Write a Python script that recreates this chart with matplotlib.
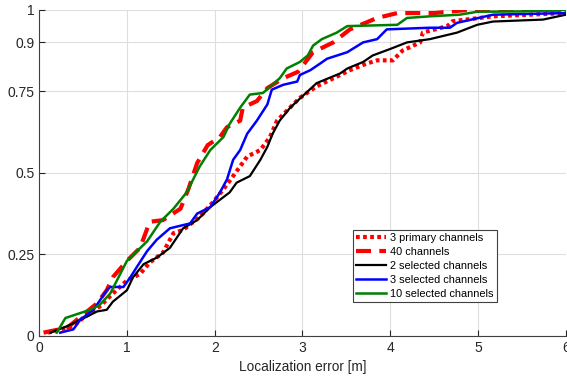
import matplotlib
matplotlib.use("Agg")
import matplotlib.pyplot as plt

# CDF curves (x: localization error [m], y: CDF)
primary3_x = [0.1, 0.39, 0.5, 0.69, 0.84, 1.0, 1.15, 1.26, 1.41, 1.53, 1.64, 1.83, 1.98, 2.10, 2.21,
              2.37, 2.52, 2.63, 2.71, 2.82, 2.97, 3.16, 3.39, 3.54, 3.73, 3.85, 4.03, 4.14, 4.34, 4.37,
              4.65, 4.71, 5.17, 6.0]
primary3_y = [0.01, 0.03, 0.055, 0.09, 0.13, 0.17, 0.19, 0.225, 0.255, 0.315, 0.325, 0.365, 0.41, 0.45,
              0.49, 0.55, 0.57, 0.61, 0.66, 0.69, 0.73, 0.765, 0.795, 0.815, 0.835, 0.845, 0.845, 0.875,
              0.90, 0.93, 0.95, 0.965, 0.98, 0.99]

ch40_x = [0.05, 0.32, 0.66, 0.77, 0.84, 1.0, 1.15, 1.26, 1.41, 1.61, 1.70, 1.80, 1.92, 2.06, 2.14, 2.29,
          2.32, 2.48, 2.60, 2.78, 2.95, 3.12, 3.35, 3.54, 3.85, 4.08, 4.5, 4.9, 6.0]
ch40_y = [0.01, 0.025, 0.10, 0.14, 0.18, 0.23, 0.27, 0.35, 0.355, 0.39, 0.45, 0.53, 0.585, 0.61, 0.64,
          0.66, 0.70, 0.72, 0.76, 0.79, 0.81, 0.87, 0.90, 0.94, 0.975, 0.99, 0.99, 1.0, 1.0]

sel2_x = [0.13, 0.32, 0.55, 0.66, 0.77, 0.84, 1.0, 1.07, 1.19, 1.34, 1.49, 1.64, 1.80, 1.95, 2.17, 2.25,
          2.40, 2.52, 2.60, 2.66, 2.74, 2.86, 2.94, 3.16, 3.43, 3.51, 3.69, 3.80, 4.0, 4.19, 4.45, 4.76,
          4.99, 5.17, 5.74, 6.0]
sel2_y = [0.01, 0.03, 0.06, 0.075, 0.08, 0.105, 0.14, 0.18, 0.22, 0.24, 0.27, 0.33, 0.355, 0.395, 0.44,
          0.47, 0.49, 0.54, 0.58, 0.62, 0.66, 0.70, 0.72, 0.775, 0.805, 0.82, 0.84, 0.86, 0.88, 0.90,
          0.91, 0.93, 0.954, 0.964, 0.97, 0.985]

sel3_x = [0.24, 0.39, 0.47, 0.62, 0.77, 0.81, 0.96, 1.04, 1.11, 1.23, 1.34, 1.49, 1.72, 1.80, 1.95, 2.06,
          2.14, 2.21, 2.29, 2.37, 2.48, 2.60, 2.65, 2.78, 2.94, 2.97, 3.09, 3.20, 3.28, 3.51, 3.69, 3.85,
          3.96, 4.45, 4.68, 4.76, 5.17, 6.0]
sel3_y = [0.01, 0.02, 0.05, 0.08, 0.14, 0.15, 0.15, 0.18, 0.21, 0.26, 0.295, 0.33, 0.345, 0.375, 0.395,
          0.44, 0.48, 0.54, 0.57, 0.62, 0.66, 0.71, 0.755, 0.77, 0.78, 0.80, 0.815, 0.835, 0.85, 0.87,
          0.90, 0.91, 0.94, 0.945, 0.945, 0.96, 0.985, 0.99]

sel10_x = [0.2, 0.30, 0.58, 0.69, 0.81, 1.0, 1.23, 1.38, 1.53, 1.68, 1.83, 1.95, 2.10, 2.17, 2.29, 2.40,
           2.55, 2.74, 2.82, 2.97, 3.06, 3.12, 3.22, 3.39, 3.51, 4.08, 4.19, 4.45, 4.79, 4.99, 5.5, 6.0]
sel10_y = [0.01, 0.055, 0.08, 0.095, 0.13, 0.23, 0.29, 0.35, 0.39, 0.44, 0.52, 0.57, 0.61, 0.65, 0.70,
           0.74, 0.745, 0.79, 0.82, 0.84, 0.86, 0.89, 0.91, 0.93, 0.95, 0.954, 0.975, 0.98, 0.985, 0.994,
           0.995, 1.0]

xticks = [0, 1, 2, 3, 4, 5, 6]
yticks = [0, 0.25, 0.5, 0.75, 0.9, 1]
ytick_labels = ["0", "0.25", "0.5", "0.75", "0.9", "1"]

plt.rcParams['font.family'] = ['Liberation Sans', 'DejaVu Sans']

fig = plt.figure(figsize=(5.67, 3.77), dpi=100)
ax = fig.add_axes([0.069, 0.109, 0.929, 0.865])

ax.plot(primary3_x, primary3_y, color='red', lw=3, linestyle=(0, (0.9, 0.8)),
        label='3 primary channels')
ax.plot(ch40_x, ch40_y, color='red', lw=3, linestyle=(0, (3.6, 2.0)), label='40 channels')
ax.plot(sel2_x, sel2_y, color='black', lw=1.6, label='2 selected channels')
ax.plot(sel3_x, sel3_y, color='blue', lw=1.8, label='3 selected channels')
ax.plot(sel10_x, sel10_y, color='green', lw=1.8, label='10 selected channels')

ax.set_xlim(0, 6)
ax.set_ylim(0, 1)
ax.set_xticks(xticks)
ax.set_yticks(yticks)
ax.set_yticklabels(ytick_labels)
ax.grid(True, color='#dedede', lw=0.8)
ax.set_axisbelow(True)
for s in ['top', 'right']:
    ax.spines[s].set_visible(False)
for s in ['left', 'bottom']:
    ax.spines[s].set_color('#404040')
    ax.spines[s].set_linewidth(0.8)
ax.tick_params(direction='in', length=4, colors='#262626', labelsize=10)
ax.set_xlabel('Localization error [m]', fontsize=9.8, color='#262626', labelpad=4)

leg = ax.legend(loc='lower left', bbox_to_anchor=(0.596, 0.104), fontsize=7.9, handlelength=2.7,
                borderpad=0.3, labelspacing=0.36, handletextpad=0.4, borderaxespad=0, fancybox=False,
                framealpha=1)
leg.get_frame().set_edgecolor('#404040')
leg.get_frame().set_linewidth(0.8)

fig.savefig('out.png', dpi=100)
